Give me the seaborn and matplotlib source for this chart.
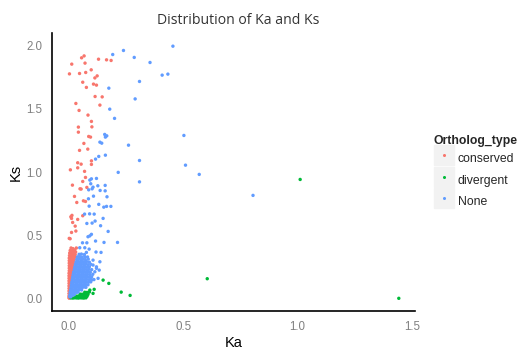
import matplotlib
matplotlib.use("Agg")
import matplotlib.pyplot as plt
from matplotlib.lines import Line2D
import seaborn as sns
import pandas as pd

# (Ka, Ks) pairs, one list per ortholog type
conserved = [
    (0.067, 1.919), (0.056, 1.904), (0.013, 1.854), (0.071, 1.862), (0.130, 1.893),
    (0.165, 1.888), (0.185, 1.883), (0.003, 1.777), (0.047, 1.780), (0.074, 1.788),
    (0.098, 1.809), (0.124, 1.761), (0.114, 1.745), (0.061, 1.711), (0.108, 1.696),
    (0.121, 1.688), (0.077, 1.670), (0.115, 1.598), (0.146, 1.595), (0.031, 1.543),
    (0.136, 1.530), (0.045, 1.488), (0.084, 1.451), (0.099, 1.401), (0.042, 1.356),
    (0.101, 1.358), (0.042, 1.316), (0.087, 1.282), (0.095, 1.277), (0.066, 1.227),
    (0.047, 1.172), (0.083, 1.182), (0.099, 1.089), (0.039, 1.074), (0.054, 1.063),
    (0.099, 1.061), (0.039, 1.034), (0.007, 1.018), (0.069, 1.006), (0.073, 0.958),
    (0.016, 0.897), (0.061, 0.926), (0.049, 0.868), (0.054, 0.866), (0.079, 0.879),
    (0.025, 0.808), (0.064, 0.773), (0.073, 0.768), (0.035, 0.760), (0.014, 0.658),
    (0.009, 0.647), (0.012, 0.634), (0.061, 0.655), (0.039, 0.626), (0.017, 0.602),
    (0.028, 0.573), (0.012, 0.523), (0.031, 0.534), (0.006, 0.473), (0.002, 0.476),
    # dense strip near the Ks axis
    (0.010, 0.400), (0.018, 0.395), (0.026, 0.385), (0.033, 0.400),
    (0.006, 0.380), (0.014, 0.378), (0.022, 0.372), (0.030, 0.368),
    (0.004, 0.360), (0.012, 0.358), (0.020, 0.352), (0.028, 0.348),
    (0.003, 0.340), (0.010, 0.338), (0.018, 0.335), (0.026, 0.330),
    (0.002, 0.320), (0.009, 0.318), (0.016, 0.315), (0.024, 0.312),
    (0.002, 0.300), (0.008, 0.298), (0.015, 0.296), (0.022, 0.294),
    (0.002, 0.280), (0.008, 0.278), (0.014, 0.276), (0.020, 0.274),
    (0.002, 0.260), (0.008, 0.258), (0.014, 0.256), (0.019, 0.254),
    (0.002, 0.240), (0.007, 0.238), (0.013, 0.236), (0.018, 0.234),
    (0.002, 0.220), (0.007, 0.218), (0.012, 0.216), (0.017, 0.214),
    (0.001, 0.200), (0.006, 0.198), (0.011, 0.196), (0.016, 0.194),
    (0.001, 0.180), (0.006, 0.178), (0.011, 0.176),
    (0.001, 0.160), (0.005, 0.158), (0.010, 0.156),
    (0.001, 0.140), (0.005, 0.138), (0.009, 0.136),
    (0.001, 0.120), (0.005, 0.118), (0.009, 0.116),
    (0.001, 0.100), (0.004, 0.098), (0.008, 0.096),
    (0.001, 0.080), (0.004, 0.078), (0.007, 0.076),
    (0.001, 0.060), (0.004, 0.058),
    (0.001, 0.040), (0.003, 0.038),
    (0.001, 0.020), (0.003, 0.018),
    (0.001, 0.005), (0.003, 0.004),
]

divergent = [
    (1.011, 0.942), (1.442, 0.002), (0.605, 0.157), (0.150, 0.146), (0.175, 0.120),
    (0.229, 0.051), (0.268, 0.025), (0.092, 0.067), (0.111, 0.073), (0.106, 0.041),
    (0.077, 0.028),
    (0.010, 0.005), (0.018, 0.004), (0.026, 0.006), (0.034, 0.005), (0.042, 0.004),
    (0.050, 0.006), (0.058, 0.005), (0.066, 0.004), (0.075, 0.006),
    (0.030, 0.020), (0.038, 0.019), (0.046, 0.021), (0.054, 0.020), (0.062, 0.019),
    (0.070, 0.021), (0.080, 0.018),
    (0.050, 0.035), (0.058, 0.034), (0.066, 0.036), (0.074, 0.035), (0.084, 0.033),
    (0.070, 0.050), (0.080, 0.049), (0.090, 0.052),
]

none_type = [
    (0.455, 1.996), (0.239, 1.962), (0.192, 1.930), (0.286, 1.907), (0.355, 1.867),
    (0.408, 1.767), (0.433, 1.775), (0.309, 1.717), (0.175, 1.664), (0.290, 1.579),
    (0.179, 1.498), (0.200, 1.425), (0.503, 1.290), (0.510, 1.055), (0.570, 0.982),
    (0.309, 1.092), (0.309, 0.923), (0.261, 1.213), (0.216, 0.998), (0.805, 0.816),
    (0.157, 1.298), (0.166, 1.287), (0.160, 1.277), (0.136, 1.237), (0.144, 1.229),
    (0.160, 1.134), (0.131, 1.124), (0.117, 1.103), (0.121, 0.950), (0.099, 0.947),
    (0.092, 0.937), (0.096, 0.908), (0.127, 0.892), (0.159, 0.895), (0.159, 0.852),
    (0.106, 0.881), (0.102, 0.868), (0.087, 0.860), (0.137, 0.855), (0.167, 0.805),
    (0.108, 0.810), (0.086, 0.789), (0.131, 0.745), (0.089, 0.731), (0.153, 0.723),
    (0.165, 0.729), (0.184, 0.729), (0.069, 0.668), (0.091, 0.670), (0.111, 0.668),
    (0.150, 0.634), (0.079, 0.594), (0.102, 0.597), (0.115, 0.613), (0.139, 0.576),
    (0.172, 0.531), (0.099, 0.508), (0.092, 0.496), (0.084, 0.489), (0.213, 0.444),
    (0.154, 0.444), (0.060, 0.441), (0.079, 0.441), (0.117, 0.455), (0.048, 0.402),
    (0.070, 0.402), (0.089, 0.391), (0.119, 0.368), (0.141, 0.365), (0.077, 0.365),
    (0.106, 0.304), (0.136, 0.291), (0.121, 0.251), (0.114, 0.212), (0.099, 0.146),
    (0.106, 0.265), (0.121, 0.239), (0.128, 0.160), (0.133, 0.225),
    # dense wedge
    (0.045, 0.350), (0.055, 0.352), (0.068, 0.348),
    (0.038, 0.330), (0.048, 0.332), (0.058, 0.328), (0.070, 0.331), (0.082, 0.329),
    (0.035, 0.310), (0.044, 0.312), (0.053, 0.308), (0.062, 0.311), (0.072, 0.309), (0.085, 0.312),
    (0.032, 0.290), (0.041, 0.292), (0.050, 0.288), (0.059, 0.291), (0.068, 0.289),
    (0.078, 0.292), (0.090, 0.288),
    (0.029, 0.270), (0.038, 0.272), (0.047, 0.268), (0.056, 0.271), (0.065, 0.269),
    (0.074, 0.272), (0.084, 0.268), (0.096, 0.271),
    (0.026, 0.250), (0.035, 0.252), (0.044, 0.248), (0.053, 0.251), (0.062, 0.249),
    (0.071, 0.252), (0.080, 0.248), (0.090, 0.251),
    (0.024, 0.230), (0.033, 0.232), (0.042, 0.228), (0.051, 0.231), (0.060, 0.229),
    (0.069, 0.232), (0.078, 0.228), (0.088, 0.231), (0.100, 0.229),
    (0.021, 0.210), (0.030, 0.212), (0.039, 0.208), (0.048, 0.211), (0.057, 0.209),
    (0.066, 0.212), (0.075, 0.208), (0.085, 0.211), (0.094, 0.209),
    (0.019, 0.190), (0.028, 0.192), (0.037, 0.188), (0.046, 0.191), (0.055, 0.189),
    (0.064, 0.192), (0.073, 0.188), (0.082, 0.191), (0.092, 0.189), (0.105, 0.192),
    (0.017, 0.170), (0.026, 0.172), (0.035, 0.168), (0.044, 0.171), (0.053, 0.169),
    (0.062, 0.172), (0.071, 0.168), (0.080, 0.171), (0.090, 0.169), (0.100, 0.172),
    (0.015, 0.150), (0.024, 0.152), (0.033, 0.148), (0.042, 0.151), (0.051, 0.149),
    (0.060, 0.152), (0.069, 0.148), (0.078, 0.151), (0.088, 0.149), (0.098, 0.152),
    (0.110, 0.150),
    (0.013, 0.130), (0.022, 0.132), (0.031, 0.128), (0.040, 0.131), (0.049, 0.129),
    (0.058, 0.132), (0.067, 0.128), (0.076, 0.131), (0.086, 0.129), (0.096, 0.132),
    (0.011, 0.110), (0.020, 0.112), (0.029, 0.108), (0.038, 0.111), (0.047, 0.109),
    (0.056, 0.112), (0.065, 0.108), (0.074, 0.111), (0.084, 0.109),
    (0.010, 0.090), (0.018, 0.092), (0.026, 0.088), (0.034, 0.091), (0.042, 0.089),
    (0.050, 0.092), (0.058, 0.088), (0.066, 0.091), (0.075, 0.089),
    (0.008, 0.070), (0.016, 0.072), (0.024, 0.068), (0.032, 0.071), (0.040, 0.069),
    (0.048, 0.072), (0.056, 0.068),
    (0.006, 0.050), (0.013, 0.052), (0.020, 0.048), (0.027, 0.051), (0.034, 0.049),
    (0.041, 0.052),
    (0.005, 0.030), (0.011, 0.032), (0.017, 0.028), (0.024, 0.031),
    (0.004, 0.015), (0.009, 0.014),
]

type_order = ["conserved", "divergent", "None"]
type_colors = ["#F8766D", "#00BA38", "#619CFF"]

frames = []
for name, pts in zip(type_order, [conserved, divergent, none_type]):
    part = pd.DataFrame(pts, columns=["Ka", "Ks"])
    part["Ortholog_type"] = name
    frames.append(part)
df = pd.concat(frames, ignore_index=True)

sns.set_style("white")
plt.rcParams["font.family"] = ["Liberation Sans", "DejaVu Sans"]

fig = plt.figure(figsize=(5.32, 3.59), dpi=100)
ax = fig.add_axes([0.0983, 0.1331, 0.6823, 0.7749])

sns.scatterplot(data=df, x="Ka", y="Ks", hue="Ortholog_type", hue_order=type_order,
                palette=type_colors, s=6, linewidth=0, legend=False, ax=ax)

ax.set_xlim(-0.072, 1.514)
ax.set_ylim(-0.1, 2.1)
ax.set_xticks([0, 0.5, 1.0, 1.5])
ax.set_xticklabels(["0.0", "0.5", "1.0", "1.5"])
ax.set_yticks([0, 0.5, 1.0, 1.5, 2.0])
ax.set_yticklabels(["0.0", "0.5", "1.0", "1.5", "2.0"])
ax.tick_params(axis="both", length=3, width=0.8, color="#808080", labelcolor="#808080",
               labelsize=8.3, pad=4)
for side in ["top", "right"]:
    ax.spines[side].set_visible(False)
for side in ["left", "bottom"]:
    ax.spines[side].set_color("black")
    ax.spines[side].set_linewidth(1.2)

ax.set_xlabel("Ka", fontsize=10.5, color="black", labelpad=2)
ax.set_ylabel("Ks", fontsize=10.5, color="black", labelpad=3)

fig.text(237.7 / 532, 1 - 20 / 359, "Distribution of Ka and Ks", ha="center", va="center",
         fontsize=10.1, color="#333333", family=["Open Sans", "DejaVu Sans"])

handles = []
for c in type_colors:
    bg = Line2D([], [], marker="s", markersize=14.4, color="#F2F2F2", linestyle="")
    dot = Line2D([], [], marker="o", markersize=2.2, color=c, linestyle="", markeredgewidth=0)
    handles.append((bg, dot))
leg = fig.legend(handles, type_order, loc="upper left",
                 bbox_to_anchor=(434 / 532, 1 - 135 / 359), frameon=False,
                 title="Ortholog_type", alignment="left", fontsize=8.8,
                 title_fontproperties={"weight": "bold", "size": 8.8},
                 handlelength=1.64, handleheight=2.14, handletextpad=0.3,
                 labelspacing=0.12, borderpad=0, borderaxespad=0)

fig.savefig("out.png", dpi=100)
